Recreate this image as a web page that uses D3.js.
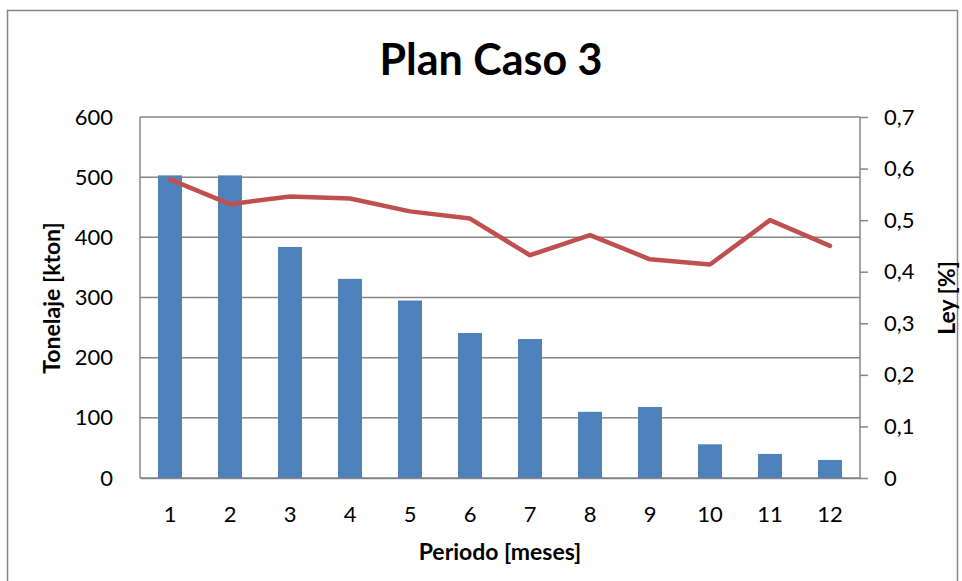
<!DOCTYPE html>
<html>
<head>
<meta charset="utf-8">
<script src="https://cdn.jsdelivr.net/npm/d3@7"></script>
<style>
  body { margin: 0; background: #fff; }
  text { font-family: Lato, "Open Sans", sans-serif; fill: #000; }
</style>
</head>
<body>
<div id="chart"></div>
<script>
var periodos = ["1", "2", "3", "4", "5", "6", "7", "8", "9", "10", "11", "12"];
var tonelaje = [503, 503, 384, 331, 295, 241, 231, 110, 118, 56, 40, 30];
var ley = [0.579, 0.531, 0.546, 0.542, 0.517, 0.503, 0.432, 0.471, 0.424, 0.414, 0.500, 0.450];
var leftTicks = [0, 100, 200, 300, 400, 500, 600];
var rightTicks = [0, 0.1, 0.2, 0.3, 0.4, 0.5, 0.6, 0.7];

var svgWidth = 962;
var svgHeight = 581;
var margin = { top: 117, right: 102, bottom: 103, left: 140 };
var plotWidth = svgWidth - margin.left - margin.right;
var plotHeight = svgHeight - margin.top - margin.bottom;

var svg = d3.select("#chart")
  .append("svg")
  .attr("width", svgWidth)
  .attr("height", svgHeight);

// outer border of the chart area
svg.append("rect")
  .attr("x", 7.5).attr("y", 10.5)
  .attr("width", 950).attr("height", 600)
  .attr("fill", "none")
  .attr("stroke", "#868686")
  .attr("stroke-width", 1.5);

var chart = svg.append("g")
  .attr("transform", `translate(${margin.left}, ${margin.top})`);

var xScale = d3.scaleBand().domain(periodos).range([0, plotWidth])
  .paddingInner(0.6).paddingOuter(0.3);
var yLeft = d3.scaleLinear().domain([0, 600]).range([plotHeight, 0]);
var yRight = d3.scaleLinear().domain([0, 0.7]).range([plotHeight, 0]);

// gridlines
chart.append("g")
  .selectAll("line")
  .data(leftTicks)
  .enter()
  .append("line")
  .attr("x1", 0).attr("x2", plotWidth)
  .attr("y1", d => yLeft(d)).attr("y2", d => yLeft(d))
  .attr("stroke", "#868686")
  .attr("stroke-width", 1.5);

// bars
chart.append("g")
  .selectAll("rect")
  .data(tonelaje)
  .enter()
  .append("rect")
  .attr("x", (d, i) => xScale(periodos[i]))
  .attr("y", d => yLeft(d))
  .attr("width", xScale.bandwidth())
  .attr("height", d => plotHeight - yLeft(d))
  .attr("fill", "#4F81BD");

// line
var line = d3.line()
  .x((d, i) => xScale(periodos[i]) + xScale.bandwidth() / 2)
  .y(d => yRight(d));

chart.append("path")
  .datum(ley)
  .attr("d", line)
  .attr("fill", "none")
  .attr("stroke", "#C0504D")
  .attr("stroke-width", 4.5)
  .attr("stroke-linejoin", "round")
  .attr("stroke-linecap", "round");

// axes
var leftAxis = d3.axisLeft(yLeft).tickValues(leftTicks).tickSize(0).tickPadding(27);
var rightAxis = d3.axisRight(yRight).tickValues(rightTicks).tickSize(8).tickPadding(16)
  .tickFormat(d => d3.format(".1~f")(d).replace(".", ","));
var bottomAxis = d3.axisBottom(xScale).tickSize(0).tickPadding(28);

var gl = chart.append("g").call(leftAxis);
var gr = chart.append("g").attr("transform", `translate(${plotWidth}, 0)`).call(rightAxis);
var gb = chart.append("g").attr("transform", `translate(0, ${plotHeight})`).call(bottomAxis);

[gl, gr, gb].forEach(function(g) {
  g.select(".domain").attr("stroke", "#868686").attr("stroke-width", 1.5);
  g.selectAll(".tick line").attr("stroke", "#868686").attr("stroke-width", 1.5);
  g.selectAll(".tick text").style("font-size", "22px").attr("fill", "#000");
});
gl.select(".domain").attr("d", `M0,0V${plotHeight}`);
gr.select(".domain").attr("d", `M0,0V${plotHeight}`);

// titles
svg.append("text")
  .attr("x", 491).attr("y", 75)
  .attr("text-anchor", "middle")
  .style("font-size", "43px").style("font-weight", "bold")
  .text("Plan Caso 3");

svg.append("text")
  .attr("x", 500).attr("y", 560)
  .attr("text-anchor", "middle")
  .style("font-size", "23px").style("font-weight", "bold")
  .text("Periodo [meses]");

svg.append("text")
  .attr("transform", "translate(60, 298) rotate(-90)")
  .attr("text-anchor", "middle")
  .style("font-size", "23px").style("font-weight", "bold")
  .text("Tonelaje [kton]");

svg.append("text")
  .attr("transform", "translate(955, 298) rotate(-90)")
  .attr("text-anchor", "middle")
  .style("font-size", "23px").style("font-weight", "bold")
  .text("Ley [%]");
</script>
</body>
</html>
